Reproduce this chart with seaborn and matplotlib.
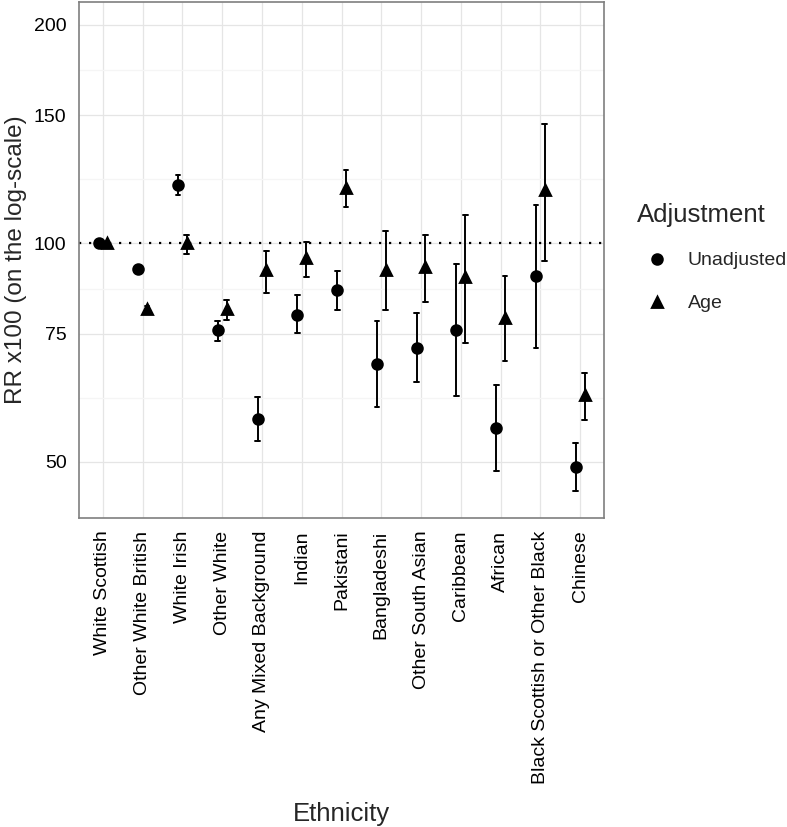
import numpy as np
import pandas as pd
import seaborn as sns
import matplotlib
matplotlib.use("Agg")
import matplotlib.pyplot as plt

ethnicity = ["White Scottish", "Other White British", "White Irish", "Other White",
             "Any Mixed Background", "Indian", "Pakistani", "Bangladeshi",
             "Other South Asian", "Caribbean", "African",
             "Black Scottish or Other Black", "Chinese"]

# RR x100 with lower/upper 95% CI
unadj_rr = [100, 92.1, 120.2, 75.8, 57.2, 79.7, 86.1, 68.2, 71.8, 76.0, 55.7, 90.1, 49.1]
unadj_lo = [100, 91.4, 116.6, 73.3, 53.3, 75.2, 81.0, 59.5, 64.4, 61.6, 48.5, 71.8, 45.5]
unadj_hi = [100, 92.8, 124.0, 78.2, 61.3, 84.8, 91.5, 78.2, 80.0, 93.6, 63.8, 112.8, 53.0]

age_rr = [100, 81.2, 100.0, 81.2, 91.9, 95.4, 119.1, 91.9, 92.6, 89.7, 78.8, 118.2, 61.8]
age_lo = [100, 80.5, 96.7, 78.4, 85.5, 89.8, 112.0, 80.8, 83.1, 72.9, 68.7, 94.6, 57.0]
age_hi = [100, 82.0, 102.7, 83.5, 97.7, 100.5, 126.2, 104.0, 102.7, 109.2, 90.1, 146.0, 66.2]

adjustments = ["Unadjusted", "Age"]
y_ticks = [50, 75, 100, 150, 200]
y_minor = [61.2, 86.6, 122.5, 173.2]

# long table: lo / estimate / hi per group -> median = estimate, full range = CI
rows = []
for adj, rr, lo, hi in [("Unadjusted", unadj_rr, unadj_lo, unadj_hi),
                        ("Age", age_rr, age_lo, age_hi)]:
    for e, r, l, h in zip(ethnicity, rr, lo, hi):
        for v in (l, r, h):
            rows.append({"Ethnicity": e, "Adjustment": adj, "RR": v})
df = pd.DataFrame(rows)

sns.set_style("white")
plt.rcParams["font.family"] = ["Liberation Sans", "DejaVu Sans"]

fig = plt.figure(figsize=(7.87, 8.27), dpi=100)
ax = fig.add_axes([0.1004, 0.3736, 0.6671, 0.624])
ax.set_yscale("log")

sns.pointplot(data=df, x="Ethnicity", y="RR", hue="Adjustment",
              order=ethnicity, hue_order=adjustments,
              estimator="median", errorbar=("pi", 100),
              dodge=0.22, markers=["o", "^"], linestyles="none",
              palette=["black", "black"], capsize=0.12, markersize=7,
              err_kws={"linewidth": 1.4}, ax=ax)

ax.axhline(100, color="black", linestyle=(0, (1, 3.5)), linewidth=1.6, zorder=1)

ax.set_xlim(-0.6, 12.6)
ax.set_ylim(41.8, 215)
ax.set_yticks(y_ticks, labels=[str(t) for t in y_ticks])
ax.set_yticks(y_minor, minor=True, labels=[])
ax.tick_params(axis="y", which="minor", length=0)
ax.tick_params(axis="both", which="major", length=6, width=1.4, color="#333333",
               labelsize=14, labelcolor="black", direction="out", pad=3)
ax.tick_params(axis="x", labelrotation=90)

ax.grid(True, which="major", color="#E5E5E5", linewidth=0.9, zorder=0)
ax.grid(True, which="minor", axis="y", color="#F5F5F5", linewidth=0.9, zorder=0)
ax.set_axisbelow(True)
for s in ax.spines.values():
    s.set_color("#7F7F7F")
    s.set_linewidth(1.2)

ax.set_xlabel("Ethnicity", fontsize=18.5, labelpad=13)
ax.set_ylabel("RR x100 (on the log-scale)", fontsize=17.5, labelpad=5)

sns.move_legend(ax, "center left", bbox_to_anchor=(1.03, 0.505), frameon=False,
                title="Adjustment", fontsize=14, title_fontsize=18.5,
                alignment="left", labelspacing=1.3, handletextpad=0.6)

fig.savefig("out.png", dpi=100)
